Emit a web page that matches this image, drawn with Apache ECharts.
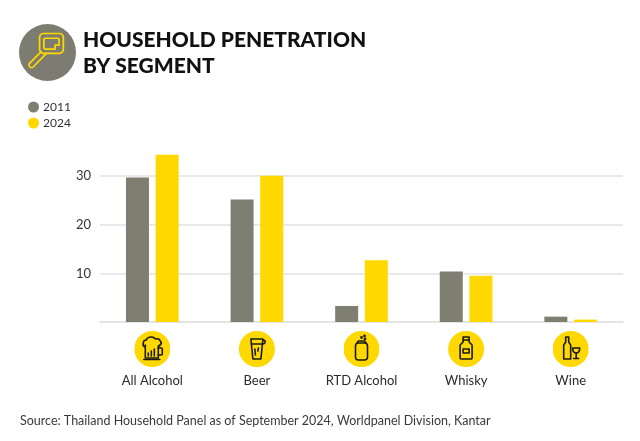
<!DOCTYPE html>
<html>
<head>
<meta charset="utf-8">
<script src="https://cdn.jsdelivr.net/npm/echarts@6/dist/echarts.min.js"></script>
<style>
  html, body { margin: 0; padding: 0; background: #fff; }
  #chart { width: 640px; height: 441px; }
</style>
</head>
<body>
<div id="chart"></div>
<script>
// DATA
const segments = ["All Alcohol", "Beer", "RTD Alcohol", "Whisky", "Wine"];
const years = ["2011", "2024"];
const values2011 = [29.7, 25.2, 3.3, 10.4, 1.1];
const values2024 = [34.4, 30.1, 12.7, 9.5, 0.5];
const yTicks = [10, 20, 30];

const GRAY = "#7f7f71";
const YELLOW = "#ffd800";
const FONT = "Lato";

// ICONS (line drawings inside a yellow disc)
function svgUrl(body, size, bg) {
  let svg = '<svg xmlns="http://www.w3.org/2000/svg" width="' + size + '" height="' + size +
    '" viewBox="0 0 36 36"><circle cx="18" cy="18" r="18" fill="' + bg + '"/>' + body + '</svg>';
  return "data:image/svg+xml;charset=utf-8," + encodeURIComponent(svg);
}

const stroke = 'fill="none" stroke="#1a1a1a" stroke-width="1.6" stroke-linejoin="round" stroke-linecap="round"';
const iconBodies = {
  "All Alcohol":
    '<g ' + stroke + '>' +
    '<path d="M11 16 q-3 -1 -2 -4 q0 -3 3 -3 q1 -3 5 -3 q3 0 4 2 q4 -1 5 2 q2 2 0 4 l-1 1 v-1"/>' +
    '<path d="M11 14 v13 h13 v-12"/>' +
    '<path d="M24 17 h3 a1 1 0 0 1 1 1 v5 a1 1 0 0 1 -1 1 h-3"/>' +
    '<path d="M9.5 28.5 h16"/>' +
    '<path d="M14 25 v-3 M17 25 v-5 M20 25 v-7"/>' +
    '</g>',
  "Beer":
    '<g ' + stroke + '>' +
    '<path d="M12 8 h12 l-2 20 h-8 z"/>' +
    '<path d="M12.5 13 h11"/>' +
    '<path d="M24 9 q3 0 2 3 q-1 1 -2.5 1"/>' +
    '<path d="M16 18 l0.5 6 M19.5 17 l-0.5 3"/>' +
    '</g>',
  "RTD Alcohol":
    '<g ' + stroke + '>' +
    '<rect x="12" y="12" width="12" height="17" rx="3"/>' +
    '<path d="M13.5 12 l1.5 -2 h6 l1.5 2"/>' +
    '<circle cx="18" cy="6.5" r="0.6"/><circle cx="21" cy="5" r="0.6"/><circle cx="21.5" cy="8" r="0.6"/>' +
    '</g>',
  "Whisky":
    '<g ' + stroke + '>' +
    '<path d="M15 6 h6 v5 l3 3 v13 a1 1 0 0 1 -1 1 h-10 a1 1 0 0 1 -1 -1 v-13 l3 -3 z"/>' +
    '<path d="M15 9 h6"/>' +
    '<rect x="15" y="18" width="6" height="4"/>' +
    '</g>',
  "Wine":
    '<g ' + stroke + '>' +
    '<path d="M13 6 h3 v5 l2 3 v14 h-7 v-14 l2 -3 z"/>' +
    '<path d="M20 17 h7 q0 5 -3.5 5 q-3.5 0 -3.5 -5 z"/>' +
    '<path d="M23.5 22 v5 M21 27.5 h5"/>' +
    '</g>'
};

const keyIcon = svgUrl(
  '<g fill="none" stroke="' + YELLOW + '" stroke-width="1.1" stroke-linejoin="round" stroke-linecap="round">' +
  '<rect x="13" y="6" width="15" height="12.5" rx="2.5"/>' +
  '<path d="M16.5 9 h8 a0.8 0.8 0 0 1 0.8 0.8 v3.5 h-2.5 v2.5 h-6.3 a0.8 0.8 0 0 1 -0.8 -0.8 v-5.2 a0.8 0.8 0 0 1 0.8 -0.8 z"/>' +
  '<path d="M14 17.5 L6.8 24.7 a1.6 1.6 0 0 0 2.3 2.3 L17.3 18.5"/>' +
  '</g>', 57, "#7d7c71");

const rich = {
  n: { fontFamily: FONT, fontSize: 13, color: "#2b2b2b", lineHeight: 26, padding: [2, 0, 0, 0] }
};
segments.forEach((s, i) => {
  rich["i" + i] = {
    width: 36, height: 36,
    backgroundColor: { image: svgUrl(iconBodies[s], 72, YELLOW) }
  };
});

// CHART
const chart = echarts.init(document.getElementById("chart"));

chart.setOption({
  animation: false,
  backgroundColor: "#ffffff",
  textStyle: { fontFamily: FONT },
  title: [{
    text: "HOUSEHOLD PENETRATION\nBY SEGMENT",
    left: 78, top: 22,
    textStyle: { fontFamily: FONT, fontSize: 21, fontWeight: 900, color: "#111", lineHeight: 26 }
  }, {
    text: "Source: Thailand Household Panel as of September 2024, Worldpanel Division, Kantar",
    left: 15, top: 409,
    textStyle: { fontFamily: FONT, fontSize: 12.5, fontWeight: "normal", color: "#3a3a3a" }
  }],
  graphic: [{
    type: "image", left: 19, top: 24,
    style: { image: keyIcon, width: 57, height: 57 }
  }],
  legend: {
    orient: "vertical", left: 23, top: 96,
    icon: "circle", itemWidth: 11, itemHeight: 11, itemGap: 4,
    textStyle: { fontFamily: FONT, fontSize: 12, color: "#333", padding: [0, 0, 0, -1] },
    data: years
  },
  grid: { left: 100, right: 17, top: 127.5, bottom: 119 },
  xAxis: {
    type: "category",
    data: segments,
    axisTick: { show: false },
    axisLine: { lineStyle: { color: "#dcdcdc", width: 1.5 } },
    axisLabel: {
      interval: 0, margin: 9,
      formatter: (v, idx) => "{i" + idx + "|}\n{n|" + v + "}",
      rich: rich
    }
  },
  yAxis: {
    type: "value",
    min: 0, max: 40, interval: 10,
    axisLine: { show: false },
    axisTick: { show: false },
    axisLabel: {
      showMinLabel: false, showMaxLabel: false, margin: 9,
      fontFamily: FONT, fontSize: 13, color: "#333",
      formatter: v => (yTicks.indexOf(v) >= 0 ? String(v) : "")
    },
    splitLine: { showMinLine: false, showMaxLine: false, lineStyle: { color: "#e2e2e2", width: 1.5 } }
  },
  series: [{
    name: years[0], type: "bar", data: values2011,
    barWidth: 23, barGap: "29%",
    itemStyle: { color: GRAY }
  }, {
    name: years[1], type: "bar", data: values2024,
    barWidth: 23,
    itemStyle: { color: YELLOW }
  }]
});
</script>
</body>
</html>
